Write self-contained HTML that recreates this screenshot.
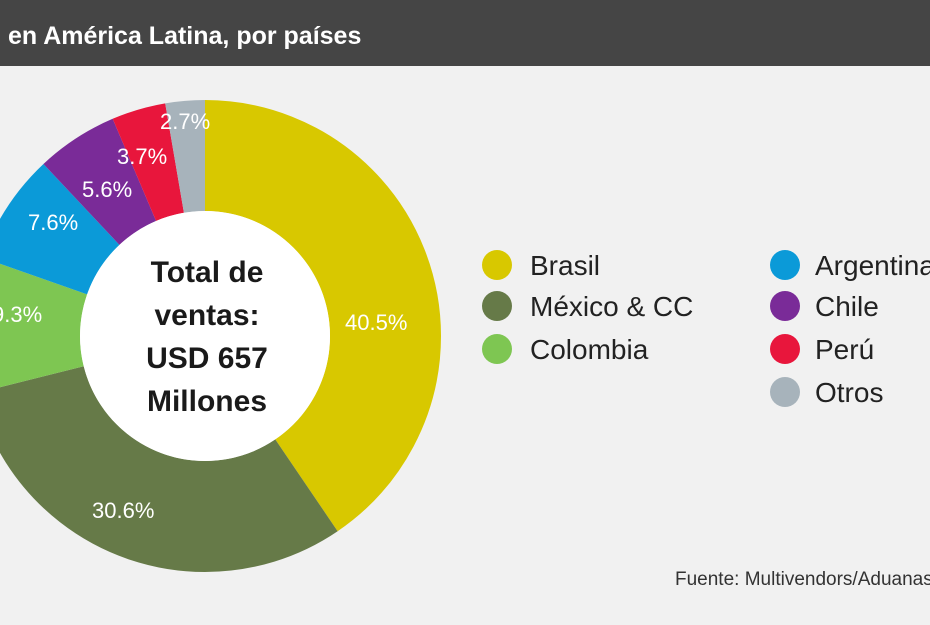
<!DOCTYPE html>
<html><head><meta charset="utf-8"><style>
body{margin:0;width:930px;height:620px;overflow:hidden;background:#f1f1f1;font-family:"Liberation Sans",sans-serif}
</style></head><body>
<svg width="930" height="620" xmlns="http://www.w3.org/2000/svg">
<rect width="930" height="620" fill="#f1f1f1"/>
<rect width="930" height="66" fill="#454545"/>
<text x="8" y="44" fill="#fff" font-size="25" font-weight="bold" font-family="Liberation Sans, sans-serif">en América Latina, por países</text>
<g transform="rotate(-90 205 336)" fill="none" stroke-width="111">
<circle cx="205" cy="336" r="180.5" pathLength="100" stroke="#d8c800" stroke-dasharray="40.5 100" stroke-dashoffset="0"/>
<circle cx="205" cy="336" r="180.5" pathLength="100" stroke="#667a48" stroke-dasharray="30.6 100" stroke-dashoffset="-40.5"/>
<circle cx="205" cy="336" r="180.5" pathLength="100" stroke="#7ec652" stroke-dasharray="9.3 100" stroke-dashoffset="-71.1"/>
<circle cx="205" cy="336" r="180.5" pathLength="100" stroke="#0b9ad8" stroke-dasharray="7.6 100" stroke-dashoffset="-80.4"/>
<circle cx="205" cy="336" r="180.5" pathLength="100" stroke="#7a2b98" stroke-dasharray="5.6 100" stroke-dashoffset="-88"/>
<circle cx="205" cy="336" r="180.5" pathLength="100" stroke="#e8163c" stroke-dasharray="3.7 100" stroke-dashoffset="-93.6"/>
<circle cx="205" cy="336" r="180.5" pathLength="100" stroke="#a7b3bb" stroke-dasharray="2.7 100" stroke-dashoffset="-97.3"/>
</g>
<circle cx="205" cy="336" r="125" fill="#fff"/>
<g fill="#1a1a1a" font-size="30" font-weight="bold" text-anchor="middle" font-family="Liberation Sans, sans-serif">
<text x="207" y="282">Total de</text>
<text x="207" y="325">ventas:</text>
<text x="207" y="368">USD 657</text>
<text x="207" y="411">Millones</text>
</g>
<g fill="#fff" font-size="22" font-family="Liberation Sans, sans-serif">
<text x="345" y="330">40.5%</text>
<text x="92" y="518">30.6%</text>
<text x="-8" y="322">9.3%</text>
<text x="28" y="230">7.6%</text>
<text x="82" y="197">5.6%</text>
<text x="117" y="164">3.7%</text>
<text x="160" y="129">2.7%</text>
</g>
<g font-size="28" fill="#222" font-family="Liberation Sans, sans-serif">
<circle cx="497" cy="265" r="15" fill="#d8c800"/><text x="530" y="275">Brasil</text>
<circle cx="497" cy="306" r="15" fill="#667a48"/><text x="530" y="316">México &amp; CC</text>
<circle cx="497" cy="349" r="15" fill="#7ec652"/><text x="530" y="359">Colombia</text>
<circle cx="785" cy="265" r="15" fill="#0b9ad8"/><text x="815" y="275">Argentina</text>
<circle cx="785" cy="306" r="15" fill="#7a2b98"/><text x="815" y="316">Chile</text>
<circle cx="785" cy="349" r="15" fill="#e8163c"/><text x="815" y="359">Perú</text>
<circle cx="785" cy="392" r="15" fill="#a7b3bb"/><text x="815" y="402">Otros</text>
</g>
<text x="675" y="585" font-size="19" fill="#333" font-family="Liberation Sans, sans-serif">Fuente: Multivendors/Aduanas</text>
</svg>
</body></html>
